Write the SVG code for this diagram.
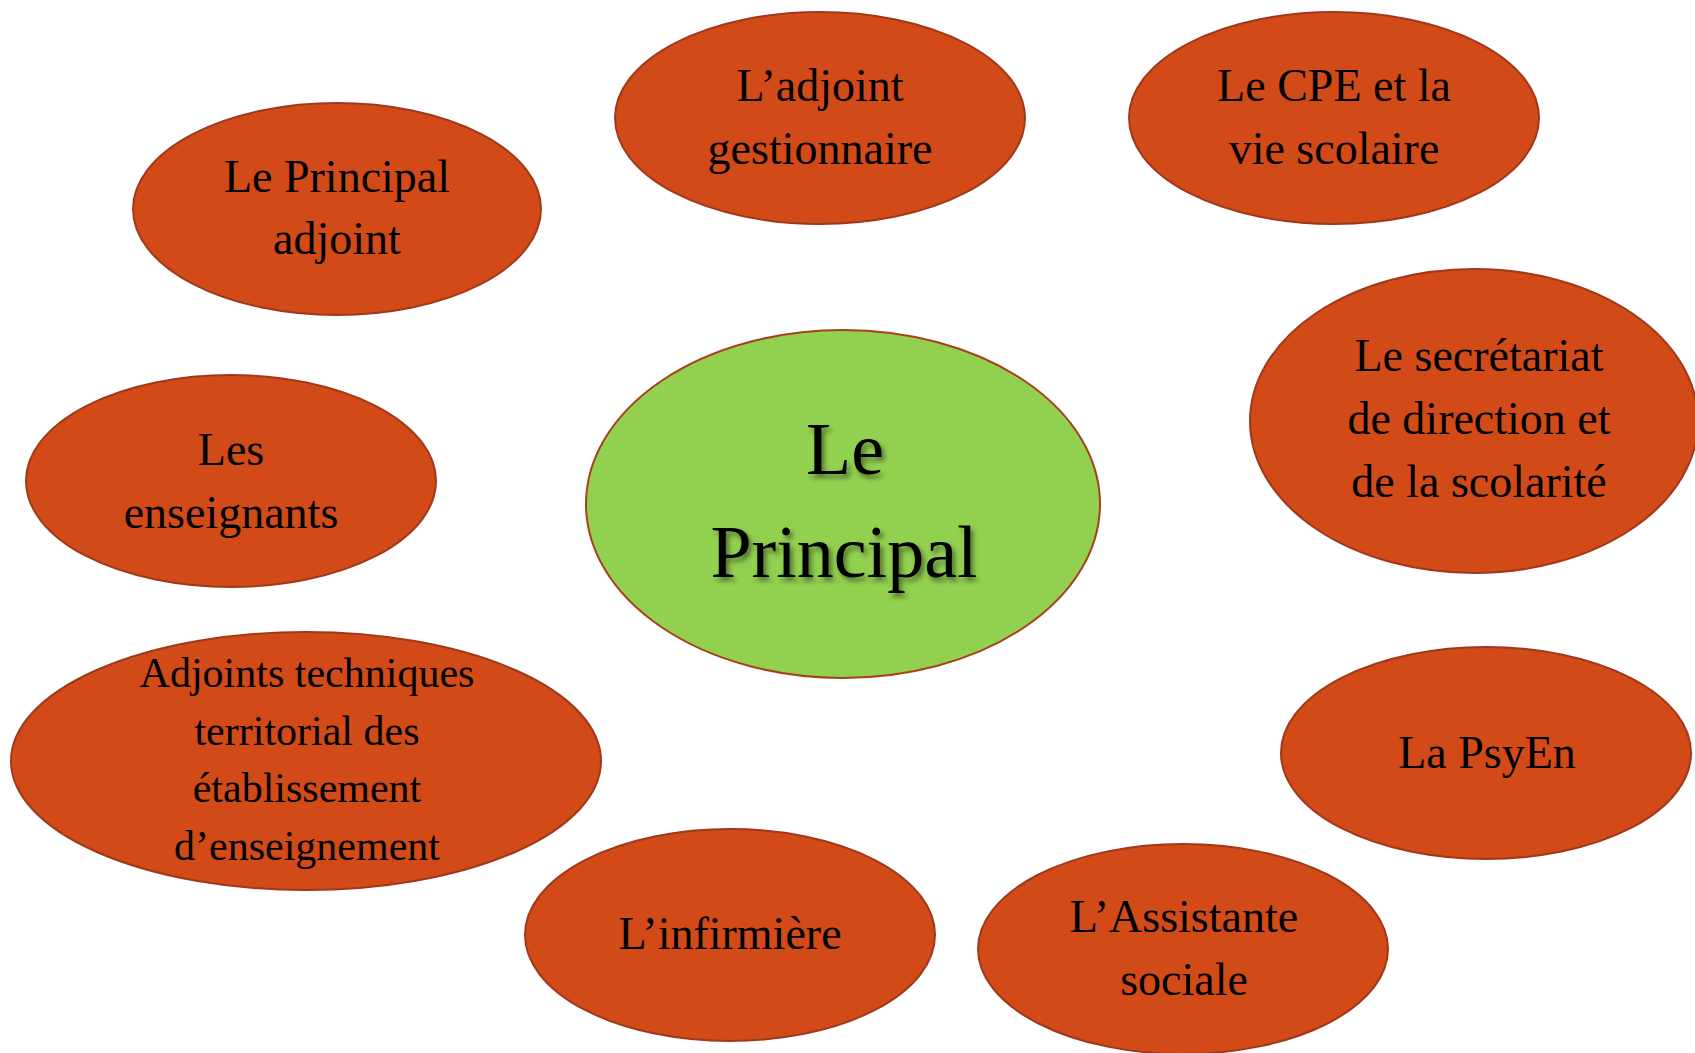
<svg xmlns="http://www.w3.org/2000/svg" width="1695" height="1053" viewBox="0 0 1695 1053">
<style>
.node{fill:#D14A18;stroke:#A0381A;stroke-width:2}
.center{fill:#92D050;stroke:#A8401A;stroke-width:2}
.t{font-family:"Liberation Serif","DejaVu Serif",serif;font-size:46px;fill:#000;text-anchor:middle}
.ts{font-size:42px}
.big{font-family:"Liberation Serif","DejaVu Serif",serif;font-size:74px;fill:#000;text-anchor:middle;filter:url(#sh)}
</style>
<defs>
<filter id="sh" x="-10%" y="-10%" width="130%" height="140%">
<feDropShadow dx="3" dy="4" stdDeviation="2.5" flood-color="#000" flood-opacity="0.45"/>
</filter>
</defs>
<rect width="1695" height="1053" fill="#fff"/>
<g id="connectors"></g>
<g id="principal-adjoint">
<ellipse class="node" cx="337" cy="209" rx="204" ry="106"/>
<text class="t" x="337" y="192">Le Principal</text>
<text class="t" x="337" y="254">adjoint</text>
</g>
<g id="adjoint-gestionnaire">
<ellipse class="node" cx="820" cy="118" rx="205" ry="106"/>
<text class="t" x="820" y="101">L’adjoint</text>
<text class="t" x="820" y="164">gestionnaire</text>
</g>
<g id="cpe">
<ellipse class="node" cx="1334" cy="118" rx="205" ry="106"/>
<text class="t" x="1334" y="101">Le CPE et la</text>
<text class="t" x="1334" y="164">vie scolaire</text>
</g>
<g id="secretariat">
<ellipse class="node" cx="1474" cy="421" rx="224" ry="152"/>
<text class="t" x="1479" y="371">Le secrétariat</text>
<text class="t" x="1479" y="434">de direction et</text>
<text class="t" x="1479" y="497">de la scolarité</text>
</g>
<g id="enseignants">
<ellipse class="node" cx="231" cy="481" rx="205" ry="106"/>
<text class="t" x="231" y="465">Les</text>
<text class="t" x="231" y="528">enseignants</text>
</g>
<g id="principal">
<ellipse class="center" cx="843" cy="504" rx="257" ry="174"/>
<text class="big" x="845" y="474">Le</text>
<text class="big" x="844" y="577">Principal</text>
</g>
<g id="adjoints-techniques">
<ellipse class="node" cx="306" cy="761" rx="295" ry="129"/>
<text class="t ts" x="307" y="687">Adjoints techniques</text>
<text class="t ts" x="307" y="745">territorial des</text>
<text class="t ts" x="307" y="802">établissement</text>
<text class="t ts" x="307" y="860">d’enseignement</text>
</g>
<g id="infirmiere">
<ellipse class="node" cx="730" cy="935" rx="205" ry="106"/>
<text class="t" x="730" y="949">L’infirmière</text>
</g>
<g id="psyen">
<ellipse class="node" cx="1486" cy="753" rx="205" ry="106"/>
<text class="t" x="1487" y="768">La PsyEn</text>
</g>
<g id="assistante-sociale">
<ellipse class="node" cx="1183" cy="949" rx="205" ry="105"/>
<text class="t" x="1184" y="932">L’Assistante</text>
<text class="t" x="1184" y="995">sociale</text>
</g>
</svg>
